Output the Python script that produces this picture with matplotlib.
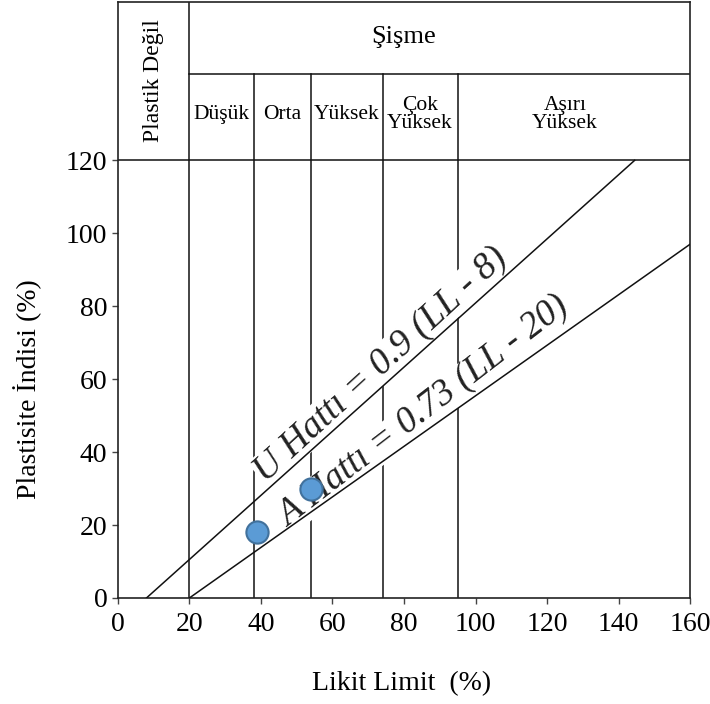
import matplotlib.pyplot as plt

# points (Likit Limit, Plastisite Indisi)
ll_pts = [39, 54]
pi_pts = [18, 30]

# reference lines: end points
u_line_x = [8, 144.5]
u_line_y = [0, 120]
a_line_x = [20, 160]
a_line_y = [0, 97]

# swelling class boundaries (LL) and labels
plastic_limit = 20
swell_bounds = [38, 54, 74, 95]
swell_labels = ["Düşük", "Orta", "Yüksek", "Çok\nYüksek", "Aşırı\nYüksek"]
swell_centers = [29, 46, 64, 84.5, 125]

x_ticks = [0, 20, 40, 60, 80, 100, 120, 140, 160]
y_ticks = [0, 20, 40, 60, 80, 100, 120]

plt.rcParams['font.family'] = ['Liberation Serif', 'DejaVu Serif']

fig = plt.figure(figsize=(7.1, 7.04), dpi=100)
ax = fig.add_axes([0.166, 0.1506, 0.806, 0.846])

top = 163.3
row = 143.8
ax.set_xlim(0, 160)
ax.set_ylim(0, top)

lc = "#111111"
lw = 1.1
# table / grid lines
ax.plot([plastic_limit, plastic_limit], [0, top], color=lc, lw=lw, zorder=1)
for b in swell_bounds:
    ax.plot([b, b], [0, row], color=lc, lw=lw, zorder=1)
ax.axhline(120, color=lc, lw=lw, zorder=1)
ax.plot([plastic_limit, 160], [row, row], color=lc, lw=lw, zorder=1)

# header texts
ax.text(10, 142, "Plastik Değil", rotation=90, ha="center", va="center", fontsize=17)
ax.text(80, 153.7, "Şişme", ha="center", va="center", fontsize=19)
for c, t in zip(swell_centers, swell_labels):
    ax.text(c, 132.5, t, ha="center", va="center", fontsize=15.5, linespacing=0.95)

# U and A lines
ax.plot(u_line_x, u_line_y, color=lc, lw=lw, zorder=3)
ax.plot(a_line_x, a_line_y, color=lc, lw=lw, zorder=3)

ax.text(73.5, 64, "U Hattı = 0.9 (LL - 8)", rotation=42.5, ha="center", va="center",
        fontsize=27, style="italic", color="#222222", zorder=2,
        bbox=dict(facecolor="white", edgecolor="none", pad=0.3))
ax.text(85.5, 51, "A Hattı = 0.73 (LL - 20)", rotation=37.5, ha="center", va="center",
        fontsize=26.5, style="italic", color="#222222", zorder=2,
        bbox=dict(facecolor="white", edgecolor="none", pad=0.3))

# data points
ax.plot(ll_pts, pi_pts, "o", ms=16, mfc="#5B9BD5", mec="#41719C", mew=1.5,
        linestyle="none", zorder=5, clip_on=False)

ax.set_xticks(x_ticks)
ax.set_yticks(y_ticks)
ax.tick_params(labelsize=20, length=4, width=1, direction="out", color="#444444")
ax.tick_params(axis="x", pad=6)
for s in ax.spines.values():
    s.set_linewidth(1.2)
    s.set_color("#222222")

ax.set_xlabel("Likit Limit  (%)", fontsize=20)
ax.set_ylabel("Plastisite İndisi (%)", fontsize=20)
ax.xaxis.set_label_coords(0.495, -0.122)
ax.yaxis.set_label_coords(-0.133, 0.35)

fig.savefig("out.png", dpi=100)
